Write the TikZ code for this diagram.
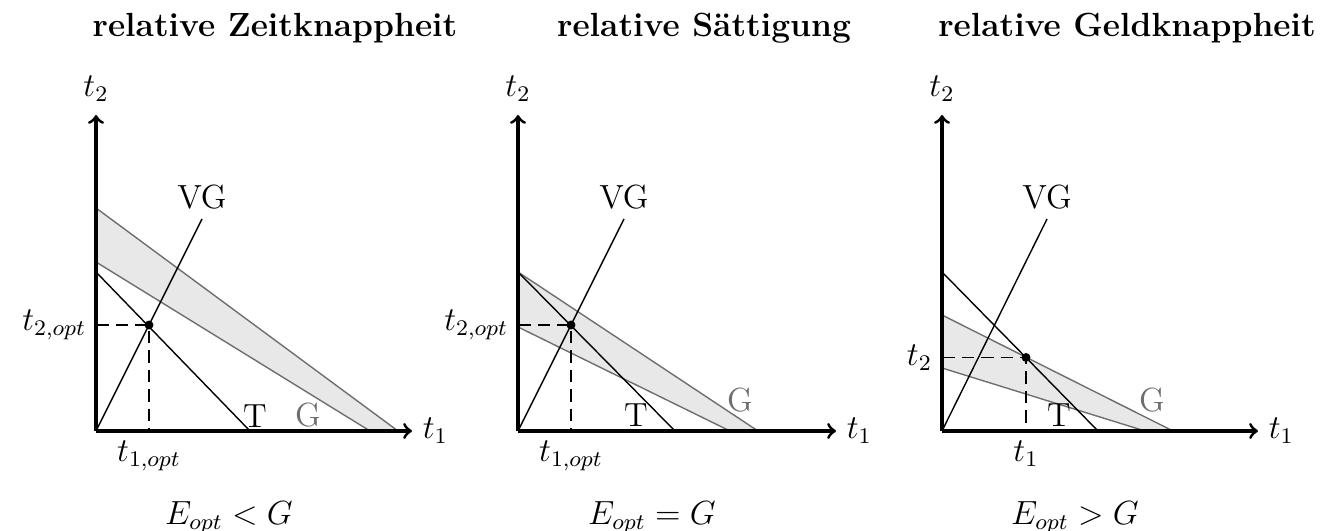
\documentclass[tikz,border=0pt]{standalone}
\usepackage{fontspec}
\usepackage{amsmath}
\usetikzlibrary{positioning}
\definecolor{bandfill}{RGB}{232,232,232}
\definecolor{bandgray}{RGB}{110,110,110}
\tikzset{
  axis/.style={line width=1.1pt,->},
  thinline/.style={line width=0.5pt},
  bandline/.style={line width=0.5pt,bandgray},
  band/.style={fill=bandfill},
  optline/.style={line width=0.5pt,dash pattern=on 4.5pt off 2.5pt},
  lbl/.style={font=\fontsize{12}{14}\selectfont},
  glbl/.style={lbl,text=bandgray,anchor=base},
  ttl/.style={font=\fontsize{12}{14}\selectfont\bfseries,anchor=base},
}
\begin{document}
\begin{tikzpicture}[x=0.3584pt,y=0.3584pt]
  \useasboundingbox (0,0) rectangle (1335,530);
  % relative Zeitknappheit
  \begin{scope}[shift={(96,99)}]
    \coordinate (o1) at (0,0);
    \coordinate (p1) at (53,106);
    \fill[band] (0,223) -- (302,0) -- (274,0) -- (0,169) -- cycle;
    \draw[bandline] (0,223) -- (302,0);
    \draw[bandline] (0,169) -- (274,0);
    \draw[thinline] (0,159) -- (154,0);
    \draw[thinline] (o1) -- (106,212) node[lbl,above] (vg1) {VG};
    \draw[optline] (0,106) node[lbl,left] (t2o1) {$t_{2,opt}$} -- (p1) -- (53,0) node[lbl,below] (t1o1) {$t_{1,opt}$};
    \fill (p1) circle (1.6pt);
    \draw[axis] (o1) -- (0,316) node[lbl,above=1pt] (ya1) {$t_2$};
    \draw[axis] (o1) -- (316,0) node[lbl,right] (xa1) {$t_1$};
    \node[lbl,anchor=base] (T1) at (159,3) {T};
    \node[glbl] (G1) at (212,4) {G};
    \node[ttl] (ti1) at (179,394) {relative Zeitknappheit};
    \node[lbl,anchor=base] (e1) at (133,-93) {$E_{opt}<G$};
  \end{scope}
  % relative Saettigung
  \begin{scope}[shift={(518,99)}]
    \coordinate (o2) at (0,0);
    \coordinate (p2) at (53,106);
    \fill[band] (0,159) -- (240,0) -- (212,0) -- (0,104) -- cycle;
    \draw[bandline] (0,159) -- (240,0);
    \draw[bandline] (0,104) -- (212,0);
    \draw[thinline] (0,159) -- (157,0);
    \draw[thinline] (o2) -- (106,212) node[lbl,above] (vg2) {VG};
    \draw[optline] (0,106) node[lbl,left] (t2o2) {$t_{2,opt}$} -- (p2) -- (53,0) node[lbl,below] (t1o2) {$t_{1,opt}$};
    \fill (p2) circle (1.6pt);
    \draw[axis] (o2) -- (0,316) node[lbl,above=1pt] (ya2) {$t_2$};
    \draw[axis] (o2) -- (318,0) node[lbl,right] (xa2) {$t_1$};
    \node[lbl,anchor=base] (T2) at (118,4) {T};
    \node[glbl] (G2) at (222,19) {G};
    \node[ttl] (ti2) at (186,394) {relative Sättigung};
    \node[lbl,anchor=base] (e2) at (134,-93) {$E_{opt}=G$};
  \end{scope}
  % relative Geldknappheit
  \begin{scope}[shift={(942,99)}]
    \coordinate (o3) at (0,0);
    \coordinate (p3) at (84,73.5);
    \fill[band] (0,116) -- (231,0) -- (203,0) -- (0,63) -- cycle;
    \draw[bandline] (0,116) -- (231,0);
    \draw[bandline] (0,63) -- (203,0);
    \draw[thinline] (0,159) -- (156,0);
    \draw[thinline] (o3) -- (105,212) node[lbl,above] (vg3) {VG};
    \draw[optline] (0,73.5) node[lbl,left] (t2o3) {$t_2$} -- (p3) -- (84,0) node[lbl,below] (t1o3) {$t_1$};
    \fill (p3) circle (1.6pt);
    \draw[axis] (o3) -- (0,316) node[lbl,above=1pt] (ya3) {$t_2$};
    \draw[axis] (o3) -- (316,0) node[lbl,right] (xa3) {$t_1$};
    \node[lbl,anchor=base] (T3) at (117,4) {T};
    \node[glbl] (G3) at (210,19) {G};
    \node[ttl] (ti3) at (185,394) {relative Geldknappheit};
    \node[lbl,anchor=base] (e3) at (133,-93) {$E_{opt}>G$};
  \end{scope}
\end{tikzpicture}
\end{document}
